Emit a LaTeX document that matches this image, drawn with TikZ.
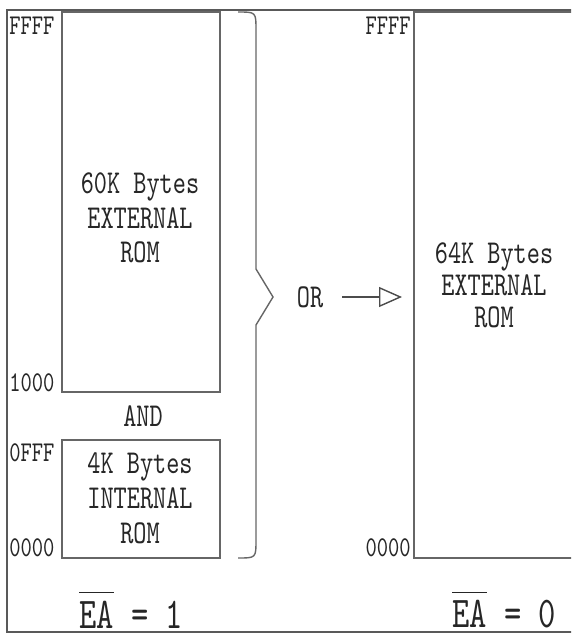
\documentclass[tikz,border=0pt]{standalone}
\usepackage{fontspec}
\setmainfont{lmmono10-regular.otf}[FakeStretch=0.75]
\usepackage{tikz}
\usetikzlibrary{arrows.meta,positioning}
\newcommand{\negbar}[1]{\vbox{\hrule height 0.6pt\kern 4.5pt\hbox{#1}}}
\tikzset{
  memBox/.style={draw=black!60, line width=0.8pt, minimum width=3.16cm, inner sep=0pt},
  memText/.style={font=\fontsize{19}{19.8}\selectfont, align=center, inner sep=0pt, text=black!85},
  addrLbl/.style={font=\fontsize{16.3}{18}\selectfont, inner sep=0pt, text=black!85},
  eaLbl/.style={font=\fontsize{25}{28}\selectfont, inner sep=0pt, text=black!85},
  %% Frame and brace
  frameLine/.style={draw=black!65, line width=1.4pt},
  braceLine/.style={draw=black!60, line width=0.8pt},
  %% OR arrow
  orArrow/.style={-{Triangle[open, length=0.46cm, width=0.4cm]}, draw=black!70, line width=0.8pt},
}
\begin{document}
\begin{tikzpicture}[x=0.02cm, y=-0.02cm]
\clip (0,0) rectangle (571,635);
%% Outer frame
\draw[frameLine] (580,10) -- (7,10) -- (7,632) -- (580,632);

%% Memory blocks
\node[memBox, minimum height=7.6cm] (romHi) at (141,202) {};
\node[memBox, minimum height=2.36cm] (romLo) at (141,499) {};
\node[memBox, minimum width=3.92cm, minimum height=10.92cm] (romAll) at (512,285) {};

\node[memText] (txtHi)  at (140,218) {60K Bytes\\EXTERNAL\\ROM};
\node[memText] (txtAnd) at (143,416) {AND};
\node[memText] (txtLo)  at (140,498) {4K Bytes\\INTERNAL\\ROM};
\node[memText, font=\fontsize{19}{18.2}\selectfont] (txtAll) at (494,285) {64K Bytes\\EXTERNAL\\ROM};
\node[memText] (txtOr)  at (310,297) {OR};

%% Addresses
\node[addrLbl, anchor=west] (aHiTop)  at (9,26)    {FFFF};
\node[addrLbl, anchor=west] (aHiBot)  at (9,383)   {1000};
\node[addrLbl, anchor=west] (aLoTop)  at (9,453)   {0FFF};
\node[addrLbl, anchor=west] (aLoBot)  at (9,548)   {0000};
\node[addrLbl, anchor=east] (aAllTop) at (411,26)  {FFFF};
\node[addrLbl, anchor=east] (aAllBot) at (411,548) {0000};

%% EA pin
\node[eaLbl] (eaOne)  at (131,610) {\negbar{EA} = 1};
\node[eaLbl] (eaZero) at (504,610) {\negbar{EA} = 0};

%% Brace and arrow
\draw[braceLine] (238,12) .. controls (256,12) .. (256,30) -- (256,269) -- (273,297)
  -- (256,325) -- (256,540) .. controls (256,558) .. (238,558);
\coordinate (orTip) at (402,297);
\draw[orArrow] ([xshift=0.38cm]txtOr.east) -- (orTip);

\end{tikzpicture}
\end{document}
